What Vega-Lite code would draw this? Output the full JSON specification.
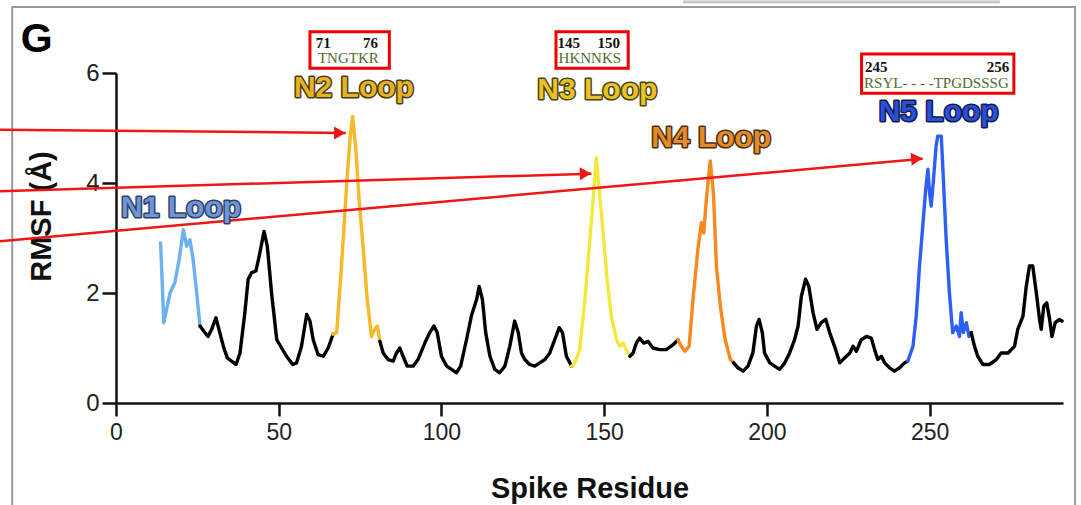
{
  "$schema": "https://vega.github.io/schema/vega-lite/v6.json",
  "width": 947,
  "height": 330,
  "autosize": {"type": "none"},
  "padding": {"left": 116, "top": 73, "right": 18, "bottom": 102},
  "background": "white",
  "config": {"view": {"stroke": null}, "axis": {"grid": false}},
  "datasets": {
    "rmsf": [
      {"r":13.7,"v":2.91,"seg":"n1","reg":"N1"},{"r":14.7,"v":1.46,"seg":"n1","reg":"N1"},{"r":16.6,"v":2.00,"seg":"n1","reg":"N1"},{"r":18.1,"v":2.19,"seg":"n1","reg":"N1"},{"r":19.4,"v":2.61,"seg":"n1","reg":"N1"},{"r":20.7,"v":3.15,"seg":"n1","reg":"N1"},{"r":21.7,"v":2.85,"seg":"n1","reg":"N1"},{"r":22.7,"v":2.97,"seg":"n1","reg":"N1"},{"r":23.7,"v":2.61,"seg":"n1","reg":"N1"},{"r":24.8,"v":2.00,"seg":"n1","reg":"N1"},{"r":25.8,"v":1.40,"seg":"n1","reg":"N1"},
      {"r":25.8,"v":1.40,"seg":"b1","reg":"other"},{"r":27.3,"v":1.28,"seg":"b1","reg":"other"},{"r":28.3,"v":1.21,"seg":"b1","reg":"other"},{"r":29.4,"v":1.34,"seg":"b1","reg":"other"},{"r":30.7,"v":1.55,"seg":"b1","reg":"other"},{"r":31.9,"v":1.28,"seg":"b1","reg":"other"},{"r":33.0,"v":1.03,"seg":"b1","reg":"other"},{"r":34.2,"v":0.82,"seg":"b1","reg":"other"},{"r":35.5,"v":0.76,"seg":"b1","reg":"other"},{"r":36.9,"v":0.70,"seg":"b1","reg":"other"},{"r":38.1,"v":0.91,"seg":"b1","reg":"other"},{"r":39.6,"v":1.64,"seg":"b1","reg":"other"},{"r":40.6,"v":2.25,"seg":"b1","reg":"other"},{"r":41.7,"v":2.37,"seg":"b1","reg":"other"},{"r":43.0,"v":2.40,"seg":"b1","reg":"other"},{"r":44.0,"v":2.67,"seg":"b1","reg":"other"},{"r":45.5,"v":3.12,"seg":"b1","reg":"other"},{"r":46.5,"v":2.85,"seg":"b1","reg":"other"},{"r":47.8,"v":2.00,"seg":"b1","reg":"other"},{"r":49.4,"v":1.15,"seg":"b1","reg":"other"},{"r":50.9,"v":1.00,"seg":"b1","reg":"other"},{"r":52.4,"v":0.85,"seg":"b1","reg":"other"},{"r":54.3,"v":0.70,"seg":"b1","reg":"other"},{"r":55.5,"v":0.73,"seg":"b1","reg":"other"},{"r":57.0,"v":1.03,"seg":"b1","reg":"other"},{"r":58.6,"v":1.61,"seg":"b1","reg":"other"},{"r":59.6,"v":1.49,"seg":"b1","reg":"other"},{"r":60.6,"v":1.15,"seg":"b1","reg":"other"},{"r":62.1,"v":0.88,"seg":"b1","reg":"other"},{"r":63.7,"v":0.85,"seg":"b1","reg":"other"},{"r":65.2,"v":1.00,"seg":"b1","reg":"other"},{"r":66.7,"v":1.25,"seg":"b1","reg":"other"},
      {"r":66.7,"v":1.25,"seg":"n2","reg":"N2"},{"r":67.8,"v":1.28,"seg":"n2","reg":"N2"},{"r":69.3,"v":2.49,"seg":"n2","reg":"N2"},{"r":70.9,"v":4.00,"seg":"n2","reg":"N2"},{"r":71.9,"v":4.79,"seg":"n2","reg":"N2"},{"r":72.7,"v":5.21,"seg":"n2","reg":"N2"},{"r":73.7,"v":4.61,"seg":"n2","reg":"N2"},{"r":74.7,"v":3.70,"seg":"n2","reg":"N2"},{"r":76.0,"v":2.79,"seg":"n2","reg":"N2"},{"r":77.2,"v":1.88,"seg":"n2","reg":"N2"},{"r":78.5,"v":1.21,"seg":"n2","reg":"N2"},{"r":79.5,"v":1.34,"seg":"n2","reg":"N2"},{"r":80.3,"v":1.40,"seg":"n2","reg":"N2"},{"r":81.1,"v":1.12,"seg":"n2","reg":"N2"},
      {"r":81.1,"v":1.12,"seg":"b2","reg":"other"},{"r":82.1,"v":0.91,"seg":"b2","reg":"other"},{"r":83.6,"v":0.79,"seg":"b2","reg":"other"},{"r":85.2,"v":0.76,"seg":"b2","reg":"other"},{"r":86.2,"v":0.91,"seg":"b2","reg":"other"},{"r":87.2,"v":1.00,"seg":"b2","reg":"other"},{"r":88.2,"v":0.85,"seg":"b2","reg":"other"},{"r":89.5,"v":0.67,"seg":"b2","reg":"other"},{"r":91.3,"v":0.67,"seg":"b2","reg":"other"},{"r":92.8,"v":0.79,"seg":"b2","reg":"other"},{"r":94.9,"v":1.09,"seg":"b2","reg":"other"},{"r":96.4,"v":1.28,"seg":"b2","reg":"other"},{"r":97.7,"v":1.40,"seg":"b2","reg":"other"},{"r":98.7,"v":1.28,"seg":"b2","reg":"other"},{"r":100.0,"v":0.85,"seg":"b2","reg":"other"},{"r":101.6,"v":0.67,"seg":"b2","reg":"other"},{"r":103.1,"v":0.61,"seg":"b2","reg":"other"},{"r":104.6,"v":0.55,"seg":"b2","reg":"other"},{"r":105.9,"v":0.67,"seg":"b2","reg":"other"},{"r":107.7,"v":1.15,"seg":"b2","reg":"other"},{"r":109.2,"v":1.58,"seg":"b2","reg":"other"},{"r":110.8,"v":1.88,"seg":"b2","reg":"other"},{"r":111.6,"v":2.12,"seg":"b2","reg":"other"},{"r":112.6,"v":1.88,"seg":"b2","reg":"other"},{"r":113.6,"v":1.28,"seg":"b2","reg":"other"},{"r":114.9,"v":0.85,"seg":"b2","reg":"other"},{"r":116.4,"v":0.61,"seg":"b2","reg":"other"},{"r":117.9,"v":0.55,"seg":"b2","reg":"other"},{"r":119.5,"v":0.67,"seg":"b2","reg":"other"},{"r":121.0,"v":1.03,"seg":"b2","reg":"other"},{"r":122.5,"v":1.49,"seg":"b2","reg":"other"},{"r":123.6,"v":1.28,"seg":"b2","reg":"other"},{"r":124.6,"v":0.91,"seg":"b2","reg":"other"},{"r":125.6,"v":0.79,"seg":"b2","reg":"other"},{"r":127.1,"v":0.70,"seg":"b2","reg":"other"},{"r":128.7,"v":0.67,"seg":"b2","reg":"other"},{"r":130.2,"v":0.73,"seg":"b2","reg":"other"},{"r":131.8,"v":0.79,"seg":"b2","reg":"other"},{"r":133.3,"v":0.91,"seg":"b2","reg":"other"},{"r":134.8,"v":1.15,"seg":"b2","reg":"other"},{"r":136.2,"v":1.37,"seg":"b2","reg":"other"},{"r":137.2,"v":1.28,"seg":"b2","reg":"other"},{"r":138.4,"v":0.85,"seg":"b2","reg":"other"},{"r":140.0,"v":0.67,"seg":"b2","reg":"other"},
      {"r":140.0,"v":0.67,"seg":"n3","reg":"N3"},{"r":141.0,"v":0.73,"seg":"n3","reg":"N3"},{"r":142.5,"v":0.97,"seg":"n3","reg":"N3"},{"r":144.1,"v":1.88,"seg":"n3","reg":"N3"},{"r":145.6,"v":2.97,"seg":"n3","reg":"N3"},{"r":146.8,"v":3.82,"seg":"n3","reg":"N3"},{"r":147.6,"v":4.46,"seg":"n3","reg":"N3"},{"r":148.4,"v":3.94,"seg":"n3","reg":"N3"},{"r":149.7,"v":3.09,"seg":"n3","reg":"N3"},{"r":150.9,"v":2.25,"seg":"n3","reg":"N3"},{"r":152.2,"v":1.58,"seg":"n3","reg":"N3"},{"r":153.8,"v":1.15,"seg":"n3","reg":"N3"},{"r":154.8,"v":1.03,"seg":"n3","reg":"N3"},{"r":155.8,"v":1.09,"seg":"n3","reg":"N3"},{"r":156.8,"v":0.97,"seg":"n3","reg":"N3"},{"r":157.9,"v":0.85,"seg":"n3","reg":"N3"},
      {"r":157.9,"v":0.85,"seg":"b3","reg":"other"},{"r":158.9,"v":0.91,"seg":"b3","reg":"other"},{"r":159.9,"v":1.09,"seg":"b3","reg":"other"},{"r":160.9,"v":1.18,"seg":"b3","reg":"other"},{"r":162.2,"v":1.09,"seg":"b3","reg":"other"},{"r":163.5,"v":1.12,"seg":"b3","reg":"other"},{"r":165.0,"v":1.00,"seg":"b3","reg":"other"},{"r":167.1,"v":0.97,"seg":"b3","reg":"other"},{"r":169.1,"v":0.97,"seg":"b3","reg":"other"},{"r":171.2,"v":1.06,"seg":"b3","reg":"other"},{"r":172.7,"v":1.15,"seg":"b3","reg":"other"},
      {"r":172.7,"v":1.15,"seg":"n4","reg":"N4"},{"r":173.7,"v":1.03,"seg":"n4","reg":"N4"},{"r":174.8,"v":0.94,"seg":"n4","reg":"N4"},{"r":176.1,"v":1.03,"seg":"n4","reg":"N4"},{"r":177.3,"v":1.88,"seg":"n4","reg":"N4"},{"r":178.8,"v":2.79,"seg":"n4","reg":"N4"},{"r":179.9,"v":3.28,"seg":"n4","reg":"N4"},{"r":180.6,"v":3.09,"seg":"n4","reg":"N4"},{"r":181.4,"v":3.70,"seg":"n4","reg":"N4"},{"r":182.6,"v":4.40,"seg":"n4","reg":"N4"},{"r":183.6,"v":3.80,"seg":"n4","reg":"N4"},{"r":184.5,"v":2.49,"seg":"n4","reg":"N4"},{"r":185.7,"v":1.76,"seg":"n4","reg":"N4"},{"r":187.2,"v":1.15,"seg":"n4","reg":"N4"},{"r":188.8,"v":0.79,"seg":"n4","reg":"N4"},{"r":189.8,"v":0.73,"seg":"n4","reg":"N4"},
      {"r":189.8,"v":0.73,"seg":"b4","reg":"other"},{"r":191.1,"v":0.64,"seg":"b4","reg":"other"},{"r":192.7,"v":0.58,"seg":"b4","reg":"other"},{"r":194.2,"v":0.67,"seg":"b4","reg":"other"},{"r":195.7,"v":0.91,"seg":"b4","reg":"other"},{"r":196.8,"v":1.40,"seg":"b4","reg":"other"},{"r":197.6,"v":1.52,"seg":"b4","reg":"other"},{"r":198.6,"v":1.28,"seg":"b4","reg":"other"},{"r":199.3,"v":0.91,"seg":"b4","reg":"other"},{"r":200.9,"v":0.73,"seg":"b4","reg":"other"},{"r":202.4,"v":0.67,"seg":"b4","reg":"other"},{"r":203.9,"v":0.61,"seg":"b4","reg":"other"},{"r":205.5,"v":0.73,"seg":"b4","reg":"other"},{"r":207.0,"v":0.91,"seg":"b4","reg":"other"},{"r":208.5,"v":1.15,"seg":"b4","reg":"other"},{"r":209.6,"v":1.40,"seg":"b4","reg":"other"},{"r":210.6,"v":1.94,"seg":"b4","reg":"other"},{"r":211.9,"v":2.25,"seg":"b4","reg":"other"},{"r":212.9,"v":2.12,"seg":"b4","reg":"other"},{"r":214.2,"v":1.64,"seg":"b4","reg":"other"},{"r":215.4,"v":1.34,"seg":"b4","reg":"other"},{"r":216.7,"v":1.46,"seg":"b4","reg":"other"},{"r":218.1,"v":1.52,"seg":"b4","reg":"other"},{"r":219.3,"v":1.28,"seg":"b4","reg":"other"},{"r":220.8,"v":1.03,"seg":"b4","reg":"other"},{"r":222.4,"v":0.73,"seg":"b4","reg":"other"},{"r":223.9,"v":0.82,"seg":"b4","reg":"other"},{"r":225.5,"v":0.91,"seg":"b4","reg":"other"},{"r":226.5,"v":1.03,"seg":"b4","reg":"other"},{"r":227.5,"v":0.94,"seg":"b4","reg":"other"},{"r":229.0,"v":1.15,"seg":"b4","reg":"other"},{"r":230.6,"v":1.21,"seg":"b4","reg":"other"},{"r":232.1,"v":1.18,"seg":"b4","reg":"other"},{"r":233.1,"v":0.97,"seg":"b4","reg":"other"},{"r":234.1,"v":0.79,"seg":"b4","reg":"other"},{"r":235.2,"v":0.85,"seg":"b4","reg":"other"},{"r":236.2,"v":0.73,"seg":"b4","reg":"other"},{"r":237.7,"v":0.64,"seg":"b4","reg":"other"},{"r":239.2,"v":0.58,"seg":"b4","reg":"other"},{"r":240.8,"v":0.64,"seg":"b4","reg":"other"},{"r":242.3,"v":0.73,"seg":"b4","reg":"other"},{"r":243.3,"v":0.76,"seg":"b4","reg":"other"},
      {"r":243.3,"v":0.76,"seg":"n5","reg":"N5"},{"r":244.9,"v":1.03,"seg":"n5","reg":"N5"},{"r":245.9,"v":1.58,"seg":"n5","reg":"N5"},{"r":246.9,"v":2.49,"seg":"n5","reg":"N5"},{"r":247.9,"v":3.21,"seg":"n5","reg":"N5"},{"r":248.8,"v":3.88,"seg":"n5","reg":"N5"},{"r":249.5,"v":4.25,"seg":"n5","reg":"N5"},{"r":250.0,"v":3.82,"seg":"n5","reg":"N5"},{"r":250.5,"v":3.58,"seg":"n5","reg":"N5"},{"r":251.2,"v":4.06,"seg":"n5","reg":"N5"},{"r":252.0,"v":4.67,"seg":"n5","reg":"N5"},{"r":252.5,"v":4.85,"seg":"n5","reg":"N5"},{"r":253.6,"v":4.85,"seg":"n5","reg":"N5"},{"r":254.3,"v":4.00,"seg":"n5","reg":"N5"},{"r":255.1,"v":2.97,"seg":"n5","reg":"N5"},{"r":256.1,"v":2.00,"seg":"n5","reg":"N5"},{"r":257.1,"v":1.28,"seg":"n5","reg":"N5"},{"r":258.2,"v":1.40,"seg":"n5","reg":"N5"},{"r":259.2,"v":1.21,"seg":"n5","reg":"N5"},{"r":259.7,"v":1.64,"seg":"n5","reg":"N5"},{"r":260.4,"v":1.28,"seg":"n5","reg":"N5"},{"r":261.3,"v":1.46,"seg":"n5","reg":"N5"},{"r":262.1,"v":1.21,"seg":"n5","reg":"N5"},{"r":262.8,"v":1.28,"seg":"n5","reg":"N5"},
      {"r":262.8,"v":1.28,"seg":"b5","reg":"other"},{"r":263.8,"v":1.03,"seg":"b5","reg":"other"},{"r":264.8,"v":0.85,"seg":"b5","reg":"other"},{"r":266.4,"v":0.70,"seg":"b5","reg":"other"},{"r":268.4,"v":0.70,"seg":"b5","reg":"other"},{"r":270.5,"v":0.79,"seg":"b5","reg":"other"},{"r":272.0,"v":0.91,"seg":"b5","reg":"other"},{"r":274.1,"v":0.91,"seg":"b5","reg":"other"},{"r":276.1,"v":1.03,"seg":"b5","reg":"other"},{"r":277.1,"v":1.34,"seg":"b5","reg":"other"},{"r":278.7,"v":1.58,"seg":"b5","reg":"other"},{"r":279.7,"v":2.12,"seg":"b5","reg":"other"},{"r":280.7,"v":2.49,"seg":"b5","reg":"other"},{"r":281.7,"v":2.49,"seg":"b5","reg":"other"},{"r":282.8,"v":2.00,"seg":"b5","reg":"other"},{"r":283.8,"v":1.52,"seg":"b5","reg":"other"},{"r":284.3,"v":1.34,"seg":"b5","reg":"other"},{"r":285.1,"v":1.76,"seg":"b5","reg":"other"},{"r":286.0,"v":1.82,"seg":"b5","reg":"other"},{"r":286.9,"v":1.52,"seg":"b5","reg":"other"},{"r":287.6,"v":1.21,"seg":"b5","reg":"other"},{"r":288.6,"v":1.46,"seg":"b5","reg":"other"},{"r":289.9,"v":1.52,"seg":"b5","reg":"other"},{"r":290.7,"v":1.49,"seg":"b5","reg":"other"}
    ],
    "frame": [{"r": -31.9, "r2": 294.7, "v": 7.2, "v2": -2.2}],
    "topbar": [{"r": 174.2, "r2": 271.6, "v": 7.29}],
    "arrows": [
      {"a": "a1", "r": -36, "v": 4.97, "r2": 70.6, "v2": 4.91},
      {"a": "a2", "r": -36, "v": 3.85, "r2": 146.1, "v2": 4.17},
      {"a": "a3", "r": -36, "v": 2.94, "r2": 247.9, "v2": 4.44}
    ],
    "heads": [
      {"a": "a1", "r": 70.6, "v": 4.91},
      {"a": "a2", "r": 146.1, "v": 4.17},
      {"a": "a3", "r": 247.9, "v": 4.44}
    ],
    "boxes": [
      {"r": 59.6, "r2": 84.0, "v": 6.75, "v2": 6.085},
      {"r": 135.2, "r2": 157.4, "v": 6.75, "v2": 6.085},
      {"r": 229.1, "r2": 275.9, "v": 6.345, "v2": 5.63}
    ],
    "nums": [
      {"r": 63.7, "v": 6.545, "t": "71"},
      {"r": 78.2, "v": 6.545, "t": "76"},
      {"r": 139.1, "v": 6.545, "t": "145"},
      {"r": 151.4, "v": 6.545, "t": "150"},
      {"r": 233.6, "v": 6.115, "t": "245"},
      {"r": 271.0, "v": 6.115, "t": "256"}
    ],
    "seqs": [
      {"r": 71.4, "v": 6.264, "t": "TNGTKR"},
      {"r": 145.6, "v": 6.264, "t": "HKNNKS"},
      {"r": 252.1, "v": 5.818, "t": "RSYL- - - -TPGDSSSG"}
    ],
    "loops": [
      {"r": 20.0, "v": 3.55, "t": "N1 Loop"},
      {"r": 73.1, "v": 5.72, "t": "N2 Loop"},
      {"r": 147.9, "v": 5.70, "t": "N3 Loop"},
      {"r": 182.9, "v": 4.81, "t": "N4 Loop"},
      {"r": 252.8, "v": 5.30, "t": "N5 Loop"}
    ],
    "panel": [{"r": -24.4, "v": 6.6, "t": "G"}]
  },
  "encoding": {
    "x": {
      "field": "r", "type": "quantitative",
      "scale": {"domain": [0, 291], "nice": false, "zero": false},
      "axis": {
        "values": [0, 50, 100, 150, 200, 250],
        "title": "Spike Residue",
        "titleFont": "Liberation Sans", "titleFontSize": 29, "titleFontWeight": "bold", "titleColor": "#111111",
        "titleBaseline": "alphabetic", "titleY": 94,
        "labelFont": "Liberation Sans", "labelFontSize": 23, "labelColor": "#222222", "labelPadding": 5,
        "labelFlush": false, "labelOverlap": false,
        "tickSize": 13, "tickWidth": 2.5, "tickColor": "#111111",
        "domainColor": "#111111", "domainWidth": 2.5
      }
    },
    "y": {
      "field": "v", "type": "quantitative",
      "scale": {"domain": [0, 6], "nice": false, "zero": false},
      "axis": {
        "values": [0, 2, 4, 6],
        "title": "RMSF (Å)",
        "titleFont": "Liberation Sans", "titleFontSize": 29, "titleFontWeight": "bold", "titleColor": "#111111",
        "titleBaseline": "middle", "titleX": -75, "titleY": 143,
        "labelFont": "Liberation Sans", "labelFontSize": 24, "labelColor": "#222222", "labelPadding": 3,
        "labelFlush": false, "labelOverlap": false,
        "tickSize": 14, "tickWidth": 2.5, "tickColor": "#111111",
        "domainColor": "#111111", "domainWidth": 2.5
      }
    }
  },
  "layer": [
    {
      "data": {"name": "frame"},
      "mark": {"type": "rect", "filled": false, "stroke": "#9a9a9a", "strokeWidth": 2},
      "encoding": {"x2": {"field": "r2"}, "y2": {"field": "v2"}}
    },
    {
      "data": {"name": "topbar"},
      "mark": {"type": "rule", "stroke": "#c8c8c8", "strokeWidth": 3},
      "encoding": {"x2": {"field": "r2"}}
    },
    {
      "data": {"name": "rmsf"},
      "mark": {"type": "line", "strokeWidth": 3.4, "strokeJoin": "round", "strokeCap": "round"},
      "encoding": {
        "color": {
          "field": "reg", "type": "nominal", "legend": null,
          "scale": {"domain": ["N1", "N2", "N3", "N4", "N5", "other"], "range": ["#6cb0f4", "#f7b928", "#f4e83c", "#f7891e", "#2d60f2", "#000000"]}
        },
        "detail": {"field": "seg", "type": "nominal"}
      }
    },
    {
      "data": {"name": "arrows"},
      "mark": {"type": "rule", "stroke": "#f01616", "strokeWidth": 2.5},
      "encoding": {"x2": {"field": "r2"}, "y2": {"field": "v2"}}
    },
    {
      "data": {"name": "heads"},
      "transform": [{"filter": "datum.a === 'a1'"}],
      "mark": {"type": "point", "shape": "triangle-right", "filled": true, "color": "#f01616", "opacity": 1, "size": 170, "angle": 0.5, "xOffset": -6}
    },
    {
      "data": {"name": "heads"},
      "transform": [{"filter": "datum.a === 'a2'"}],
      "mark": {"type": "point", "shape": "triangle-right", "filled": true, "color": "#f01616", "opacity": 1, "size": 170, "angle": -1.7, "xOffset": -6}
    },
    {
      "data": {"name": "heads"},
      "transform": [{"filter": "datum.a === 'a3'"}],
      "mark": {"type": "point", "shape": "triangle-right", "filled": true, "color": "#f01616", "opacity": 1, "size": 170, "angle": -5.1, "xOffset": -6}
    },
    {
      "data": {"name": "boxes"},
      "mark": {"type": "rect", "filled": false, "stroke": "#ee0000", "strokeWidth": 3},
      "encoding": {"x2": {"field": "r2"}, "y2": {"field": "v2"}}
    },
    {
      "data": {"name": "nums"},
      "mark": {"type": "text", "font": "Liberation Serif", "fontSize": 15, "fontWeight": "bold", "color": "#111111", "baseline": "middle"},
      "encoding": {"text": {"field": "t"}}
    },
    {
      "data": {"name": "seqs"},
      "mark": {"type": "text", "font": "Liberation Serif", "fontSize": 15, "color": "#4d6b2e", "baseline": "middle"},
      "encoding": {"text": {"field": "t"}}
    },
    {
      "data": {"name": "loops"},
      "mark": {"type": "text", "font": "Liberation Sans", "fontSize": 30, "fontWeight": "bold", "baseline": "middle", "fill": "#333333", "strokeWidth": 3, "strokeJoin": "round"},
      "encoding": {
        "text": {"field": "t"},
        "stroke": {
          "field": "t", "type": "nominal", "legend": null,
          "scale": {"domain": ["N1 Loop", "N2 Loop", "N3 Loop", "N4 Loop", "N5 Loop"], "range": ["#2e3f66", "#4a3a0e", "#4a400e", "#4a2e0e", "#101a4d"]}
        }
      }
    },
    {
      "data": {"name": "loops"},
      "mark": {"type": "text", "font": "Liberation Sans", "fontSize": 30, "fontWeight": "bold", "baseline": "middle"},
      "encoding": {
        "text": {"field": "t"},
        "fill": {
          "field": "t", "type": "nominal", "legend": null,
          "scale": {"domain": ["N1 Loop", "N2 Loop", "N3 Loop", "N4 Loop", "N5 Loop"], "range": ["#6f95d6", "#e4b424", "#e6c424", "#e58c2a", "#2a50d6"]}
        }
      }
    },
    {
      "data": {"name": "panel"},
      "mark": {"type": "text", "font": "Liberation Sans", "fontSize": 41, "fontWeight": "bold", "color": "#000000", "baseline": "middle"},
      "encoding": {"text": {"field": "t"}}
    }
  ]
}
